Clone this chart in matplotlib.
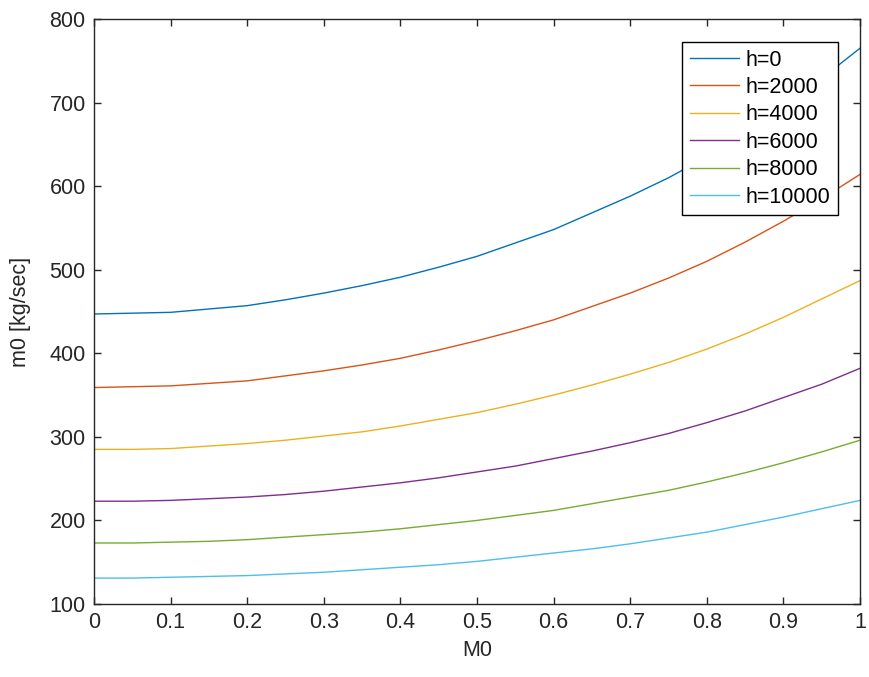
import matplotlib
matplotlib.use("Agg")
import matplotlib.pyplot as plt
import numpy as np

M0 = [0.0, 0.05, 0.1, 0.15, 0.2, 0.25, 0.3, 0.35, 0.4, 0.45, 0.5,
      0.55, 0.6, 0.65, 0.7, 0.75, 0.8, 0.85, 0.9, 0.95, 1.0]
h0 = [447, 448, 449, 453, 457, 464, 472, 481, 491, 503, 516,
      532, 548, 568, 588, 610, 635, 664, 695, 729, 765]
h2000 = [359, 360, 361, 364, 367, 373, 379, 386, 394, 404, 415,
         427, 440, 456, 472, 490, 510, 533, 558, 585, 614]
h4000 = [285, 285, 286, 289, 292, 296, 301, 306, 313, 321, 329,
         339, 350, 362, 375, 389, 405, 423, 443, 465, 487]
h6000 = [223, 223, 224, 226, 228, 231, 235, 240, 245, 251, 258,
         265, 274, 283, 293, 304, 317, 331, 347, 363, 382]
h8000 = [173, 173, 174, 175, 177, 180, 183, 186, 190, 195, 200,
         206, 212, 220, 228, 236, 246, 257, 269, 282, 296]
h10000 = [131, 131, 132, 133, 134, 136, 138, 141, 144, 147, 151,
          156, 161, 166, 172, 179, 186, 195, 204, 214, 224]
labels = ["h=0", "h=2000", "h=4000", "h=6000", "h=8000", "h=10000"]
series = [h0, h2000, h4000, h6000, h8000, h10000]
colors = ["#0072BD", "#D95319", "#EDB120", "#7E2F8E", "#77AC30", "#4DBEEE"]
xticklabels = ["0", "0.1", "0.2", "0.3", "0.4", "0.5", "0.6", "0.7", "0.8", "0.9", "1"]

plt.rcParams['font.family'] = ['Liberation Sans', 'DejaVu Sans']
fig = plt.figure(figsize=(8.69, 6.77), dpi=100)
ax = fig.add_axes([94/869, 1-604/677, (860-94)/869, (604-19)/677])

for y, lab, c in zip(series, labels, colors):
    ax.plot(M0, y, color=c, lw=1.0, label=lab)

ax.set_xlim(0, 1)
ax.set_ylim(100, 800)
ax.set_xticks(np.linspace(0, 1, len(xticklabels)))
ax.set_xticklabels(xticklabels)
ax.set_yticks(np.arange(100, 801, 100))
axc = "#262626"
for s in ax.spines.values():
    s.set_color(axc)
    s.set_linewidth(1.0)
ax.tick_params(direction='in', length=5, width=1, top=True, right=True,
               colors=axc, labelsize=15.5, pad=6)
ax.set_xlabel("M0", fontsize=15.5, color=axc, labelpad=5)
ax.set_ylabel("m0 [kg/sec]", fontsize=15.5, color=axc, labelpad=13)

leg = ax.legend(loc='upper right', bbox_to_anchor=(838/869, 1-42/677),
                bbox_transform=fig.transFigure, fontsize=15.5, frameon=True,
                fancybox=False, edgecolor='black', framealpha=1.0,
                handlelength=2.3, labelspacing=0.3, borderpad=0.35,
                handletextpad=0.3, borderaxespad=0)
leg.get_frame().set_linewidth(1.0)

fig.savefig("out.png", dpi=100)
